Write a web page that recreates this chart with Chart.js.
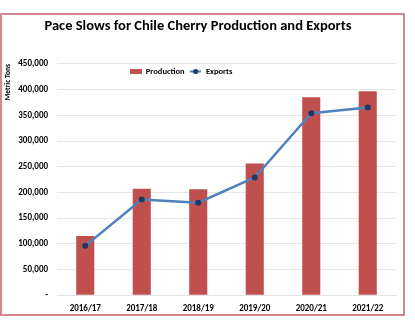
<!DOCTYPE html>
<html>
<head>
<meta charset="utf-8">
<script src="https://cdn.jsdelivr.net/npm/chart.js@4/dist/chart.umd.min.js"></script>
<style>
  body { margin: 0; background: #fff; }
  #frame { position: absolute; left: 0; top: 13px; width: 401px; height: 299px; border: 2px solid #d4878e; }
  #wrap { position: absolute; left: 0; top: 0; width: 405px; height: 326px; }
</style>
</head>
<body>
<div id="frame"></div>
<div id="wrap"><canvas id="chart"></canvas></div>
<script>
const seasons = ['2016/17', '2017/18', '2018/19', '2019/20', '2020/21', '2021/22']
const production = [115000, 207000, 206000, 256000, 385000, 397000]
const exportsTons = [96000, 186000, 180000, 229000, 354000, 365000]
const yTicks = [0, 50000, 100000, 150000, 200000, 250000, 300000, 350000, 400000, 450000]

const FONT = 'Carlito, Lato, "Liberation Sans", sans-serif'
const RED = '#c0504d'
const BLUE = '#4f81bd'
const NAVY = '#1f3864'

// little canvases used as legend markers
function makeBox(){
    let c = document.createElement('canvas')
    c.width = 12; c.height = 5
    let g = c.getContext('2d')
    g.fillStyle = RED
    g.fillRect(0, 0, 12, 5)
    return c
}
function makeLineDot(){
    let c = document.createElement('canvas')
    c.width = 11; c.height = 7
    let g = c.getContext('2d')
    g.strokeStyle = BLUE
    g.lineWidth = 2
    g.beginPath(); g.moveTo(0, 3.5); g.lineTo(11, 3.5); g.stroke()
    g.fillStyle = NAVY
    g.beginPath(); g.arc(5.5, 3.5, 2.6, 0, Math.PI * 2); g.fill()
    return c
}

// legend sits inside the plot, just under the top gridline, a bit left of centre
const legendShift = {
    id: 'legendShift',
    afterLayout(chart){
        let l = chart.legend
        let dy = chart.chartArea.top + 10 - (l.top + l.bottom) / 2
        l.top += dy; l.bottom += dy
        l.left -= 17; l.right -= 17
    }
}

const ctx = document.getElementById('chart').getContext('2d')
new Chart(ctx, {
    data: {
        labels: seasons,
        datasets: [
            {
                type: 'line',
                label: 'Exports',
                data: exportsTons,
                borderColor: BLUE,
                borderWidth: 2.5,
                pointRadius: 3,
                pointBackgroundColor: NAVY,
                pointBorderColor: NAVY,
                pointBorderWidth: 0,
                tension: 0,
                order: 0
            },
            {
                type: 'bar',
                label: 'Production',
                data: production,
                backgroundColor: RED,
                categoryPercentage: 1,
                barPercentage: 0.32,
                order: 1
            }
        ]
    },
    options: {
        responsive: true,
        maintainAspectRatio: false,
        animation: false,
        layout: { padding: { left: 0, right: 9, top: 0, bottom: 12 } },
        plugins: {
            title: {
                display: true,
                text: 'Pace Slows for Chile Cherry Production and Exports',
                color: '#000',
                font: { family: FONT, size: 14.5, weight: 'bold' },
                padding: { top: 18, bottom: 5 }
            },
            legend: {
                position: 'top',
                align: 'center',
                labels: {
                    usePointStyle: true,
                    pointStyleWidth: 12,
                    boxHeight: 6,
                    padding: 5,
                    color: '#000',
                    font: { family: FONT, size: 8.5, weight: 'bold' },
                    generateLabels(chart){
                        return [
                            { text: 'Production', pointStyle: makeBox(), fillStyle: RED, strokeStyle: RED, lineWidth: 0, datasetIndex: 1 },
                            { text: 'Exports', pointStyle: makeLineDot(), fillStyle: NAVY, strokeStyle: BLUE, lineWidth: 0, datasetIndex: 0 }
                        ]
                    }
                }
            },
            tooltip: { enabled: false }
        },
        scales: {
            x: {
                grid: { display: false },
                border: { display: true, color: '#e3e3e3' },
                ticks: { color: '#000', padding: 0, font: { family: FONT, size: 9, weight: 'bold' } }
            },
            y: {
                min: 0,
                max: 450000,
                afterBuildTicks(scale){
                    scale.ticks = yTicks.map(v => ({ value: v }))
                },
                afterFit(scale){ scale.width = 57 },
                grid: { color: '#e6e6e6', drawTicks: false },
                border: { display: false },
                ticks: {
                    color: '#000',
                    padding: 9,
                    font: { family: FONT, size: 9, weight: 'bold' },
                    callback: v => v === 0 ? '-' : v.toLocaleString('en-US')
                },
                title: {
                    display: true,
                    text: 'Metric Tons',
                    align: 'end',
                    color: '#000',
                    padding: { top: 4, bottom: 0 },
                    font: { family: FONT, size: 7.5, weight: 'bold' }
                }
            }
        }
    },
    plugins: [legendShift]
});
</script>
</body>
</html>
